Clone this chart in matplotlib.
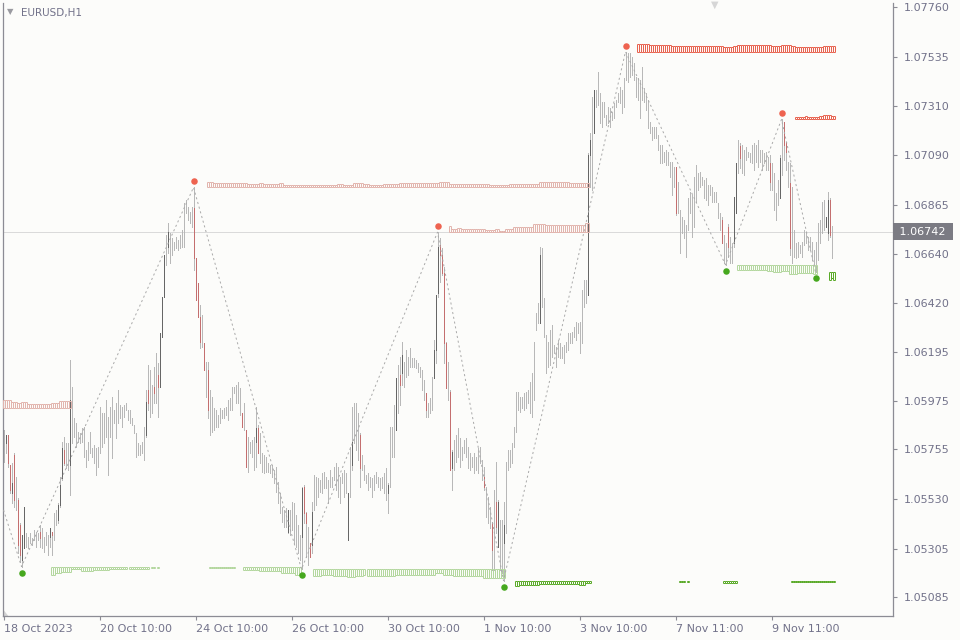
import numpy as np
import matplotlib
matplotlib.use('Agg')
import matplotlib.pyplot as plt
import matplotlib.transforms as mtransforms

plt.rcParams['font.family'] = ['DejaVu Sans']
plt.rcParams['lines.scale_dashes'] = False

# EURUSD H1 bars, one per hour (bar 0 = 18 Oct 2023)
high = [
    1.05843, 1.05820, 1.05820, 1.05684, 1.05693, 1.05739, 1.05630, 1.05535, 1.05421, 1.05367,
    1.05494, 1.05376, 1.05358, 1.05376, 1.05354, 1.05390, 1.05381, 1.05376, 1.05412, 1.05399,
    1.05358, 1.05381, 1.05367, 1.05399, 1.05381, 1.05467, 1.05481, 1.05512, 1.05630, 1.05789,
    1.05811, 1.05784, 1.05784, 1.06161, 1.06038, 1.05898, 1.05875, 1.05834, 1.05830, 1.05852,
    1.05857, 1.05753, 1.05789, 1.05834, 1.05762, 1.05775, 1.05762, 1.05766, 1.05947, 1.05920,
    1.05920, 1.05979, 1.05902, 1.05947, 1.05993, 1.05934, 1.05965, 1.06025, 1.05956, 1.05947,
    1.05956, 1.05965, 1.05934, 1.05934, 1.05898, 1.05866, 1.05830, 1.05784, 1.05775, 1.05789,
    1.05857, 1.06025, 1.06138, 1.06115, 1.06047, 1.06129, 1.06192, 1.06147, 1.06283, 1.06447,
    1.06637, 1.06728, 1.06782, 1.06737, 1.06714, 1.06696, 1.06719, 1.06705, 1.06728, 1.06750,
    1.06873, 1.06886, 1.06854, 1.06832, 1.06854, 1.06943, 1.06624, 1.06510, 1.06410, 1.06365,
    1.06238, 1.06152, 1.06152, 1.06025, 1.05993, 1.05943, 1.05934, 1.05911, 1.05943, 1.05934,
    1.05943, 1.05947, 1.05979, 1.05988, 1.06038, 1.06038, 1.06047, 1.06061, 1.06034, 1.05920,
    1.05965, 1.05843, 1.05811, 1.05789, 1.05798, 1.05811, 1.05947, 1.05866, 1.05830, 1.05739,
    1.05730, 1.05721, 1.05693, 1.05684, 1.05684, 1.05662, 1.05675, 1.05608, 1.05557, 1.05494,
    1.05481, 1.05490, 1.05481, 1.05481, 1.05517, 1.05512, 1.05458, 1.05412, 1.05367, 1.05584,
    1.05594, 1.05472, 1.05403, 1.05331, 1.05517, 1.05639, 1.05630, 1.05626, 1.05617, 1.05648,
    1.05653, 1.05630, 1.05617, 1.05662, 1.05630, 1.05675, 1.05693, 1.05675, 1.05630, 1.05648,
    1.05662, 1.05648, 1.05557, 1.05766, 1.05947, 1.05965, 1.05965, 1.05920, 1.05830, 1.05730,
    1.05684, 1.05639, 1.05648, 1.05630, 1.05626, 1.05639, 1.05653, 1.05630, 1.05626, 1.05630,
    1.05648, 1.05671, 1.05603, 1.05857, 1.05857, 1.05956, 1.06079, 1.06138, 1.06174, 1.06242,
    1.06152, 1.06206, 1.06174, 1.06215, 1.06170, 1.06170, 1.06161, 1.06147, 1.06129, 1.06115,
    1.06070, 1.06011, 1.05965, 1.05988, 1.06084, 1.06251, 1.06456, 1.06740, 1.06714, 1.06669,
    1.06583, 1.06242, 1.06152, 1.06025, 1.05753, 1.05798, 1.05820, 1.05852, 1.05807, 1.05766,
    1.05798, 1.05807, 1.05766, 1.05739, 1.05721, 1.05739, 1.05721, 1.05762, 1.05766, 1.05707,
    1.05675, 1.05584, 1.05539, 1.05494, 1.05426, 1.05571, 1.05698, 1.05526, 1.05435, 1.05435,
    1.05517, 1.05698, 1.05753, 1.05753, 1.05784, 1.05857, 1.06016, 1.06016, 1.05993, 1.05993,
    1.06011, 1.06016, 1.06025, 1.06061, 1.06102, 1.06242, 1.06374, 1.06419, 1.06673, 1.06669,
    1.06442, 1.06274, 1.06242, 1.06297, 1.06319, 1.06229, 1.06219, 1.06251, 1.06238, 1.06219,
    1.06229, 1.06242, 1.06283, 1.06283, 1.06288, 1.06310, 1.06333, 1.06329, 1.06333, 1.06478,
    1.06524, 1.06524, 1.07099, 1.07190, 1.07353, 1.07385, 1.07385, 1.07466, 1.07371, 1.07331,
    1.07331, 1.07272, 1.07308, 1.07303, 1.07285, 1.07326, 1.07340, 1.07371, 1.07398, 1.07385,
    1.07439, 1.07558, 1.07553, 1.07553, 1.07534, 1.07507, 1.07444, 1.07439, 1.07430, 1.07489,
    1.07394, 1.07371, 1.07340, 1.07240, 1.07217, 1.07217, 1.07217, 1.07181, 1.07136, 1.07136,
    1.07104, 1.07113, 1.07104, 1.07059, 1.07059, 1.07036, 1.07036, 1.06968, 1.06841, 1.06809,
    1.06796, 1.06773, 1.06895, 1.06923, 1.06909, 1.06991, 1.07045, 1.07009, 1.07013, 1.06991,
    1.06977, 1.06986, 1.06955, 1.06955, 1.06946, 1.06923, 1.06923, 1.06873, 1.06827, 1.06809,
    1.06728, 1.06692, 1.06778, 1.06719, 1.06692, 1.06900, 1.07054, 1.07158, 1.07145, 1.07136,
    1.07113, 1.07127, 1.07104, 1.07099, 1.07136, 1.07145, 1.07136, 1.07158, 1.07113, 1.07113,
    1.07099, 1.07104, 1.07081, 1.07090, 1.07054, 1.07009, 1.06918, 1.06977, 1.07090, 1.07251,
    1.07240, 1.07149, 1.07059, 1.07054, 1.06946, 1.06750, 1.06692, 1.06696, 1.06682, 1.06696,
    1.06750, 1.06741, 1.06719, 1.06719, 1.06696, 1.06660, 1.06696, 1.06782, 1.06796, 1.06877,
    1.06886, 1.06809, 1.06923, 1.06895, 1.06769,
]
low = [
    1.05698, 1.05739, 1.05675, 1.05557, 1.05512, 1.05494, 1.05481, 1.05285, 1.05245, 1.05224,
    1.05309, 1.05313, 1.05309, 1.05331, 1.05322, 1.05345, 1.05313, 1.05345, 1.05313, 1.05309,
    1.05290, 1.05322, 1.05276, 1.05313, 1.05276, 1.05345, 1.05412, 1.05421, 1.05494, 1.05617,
    1.05684, 1.05671, 1.05662, 1.05548, 1.05784, 1.05811, 1.05766, 1.05789, 1.05784, 1.05789,
    1.05721, 1.05675, 1.05707, 1.05739, 1.05721, 1.05693, 1.05639, 1.05675, 1.05739, 1.05766,
    1.05784, 1.05811, 1.05639, 1.05811, 1.05716, 1.05875, 1.05807, 1.05875, 1.05898, 1.05857,
    1.05902, 1.05934, 1.05889, 1.05875, 1.05866, 1.05830, 1.05721, 1.05730, 1.05730, 1.05739,
    1.05707, 1.05811, 1.05934, 1.05902, 1.05920, 1.05965, 1.05965, 1.05902, 1.06038, 1.06265,
    1.06447, 1.06592, 1.06646, 1.06600, 1.06637, 1.06660, 1.06669, 1.06660, 1.06669, 1.06673,
    1.06673, 1.06827, 1.06796, 1.06782, 1.06764, 1.06569, 1.06433, 1.06356, 1.06215, 1.06219,
    1.06115, 1.05993, 1.05898, 1.05820, 1.05834, 1.05843, 1.05857, 1.05857, 1.05875, 1.05898,
    1.05898, 1.05911, 1.05889, 1.05934, 1.05934, 1.06011, 1.05965, 1.05965, 1.05911, 1.05857,
    1.05843, 1.05675, 1.05653, 1.05739, 1.05721, 1.05662, 1.05675, 1.05739, 1.05693, 1.05653,
    1.05648, 1.05653, 1.05653, 1.05648, 1.05630, 1.05603, 1.05562, 1.05512, 1.05467, 1.05426,
    1.05403, 1.05403, 1.05376, 1.05367, 1.05390, 1.05331, 1.05313, 1.05285, 1.05254, 1.05212,
    1.05421, 1.05267, 1.05231, 1.05267, 1.05285, 1.05481, 1.05503, 1.05539, 1.05562, 1.05557,
    1.05580, 1.05580, 1.05512, 1.05584, 1.05584, 1.05617, 1.05571, 1.05539, 1.05512, 1.05603,
    1.05539, 1.05557, 1.05345, 1.05539, 1.05662, 1.05784, 1.05753, 1.05707, 1.05584, 1.05662,
    1.05617, 1.05603, 1.05571, 1.05584, 1.05539, 1.05571, 1.05603, 1.05584, 1.05571, 1.05580,
    1.05557, 1.05526, 1.05467, 1.05584, 1.05721, 1.05721, 1.05843, 1.05920, 1.05956, 1.06047,
    1.06038, 1.06084, 1.06093, 1.06129, 1.06129, 1.06129, 1.06124, 1.06106, 1.06084, 1.06025,
    1.05979, 1.05902, 1.05902, 1.05920, 1.05934, 1.06079, 1.06147, 1.06447, 1.06515, 1.06546,
    1.06147, 1.06034, 1.05979, 1.05662, 1.05571, 1.05662, 1.05698, 1.05721, 1.05675, 1.05707,
    1.05739, 1.05721, 1.05671, 1.05662, 1.05675, 1.05648, 1.05662, 1.05648, 1.05693, 1.05617,
    1.05571, 1.05449, 1.05421, 1.05399, 1.05208, 1.05208, 1.05376, 1.05313, 1.05208, 1.05195,
    1.05160, 1.05376, 1.05662, 1.05675, 1.05693, 1.05766, 1.05834, 1.05934, 1.05925, 1.05943,
    1.05934, 1.05943, 1.05965, 1.05920, 1.05902, 1.05979, 1.06297, 1.06329, 1.06329, 1.06401,
    1.06265, 1.06102, 1.06129, 1.06138, 1.06174, 1.06192, 1.06129, 1.06174, 1.06170, 1.06170,
    1.06147, 1.06197, 1.06206, 1.06238, 1.06238, 1.06265, 1.06251, 1.06283, 1.06192, 1.06238,
    1.06401, 1.06419, 1.06456, 1.06946, 1.06932, 1.07190, 1.07308, 1.07317, 1.07235, 1.07217,
    1.07263, 1.07226, 1.07235, 1.07217, 1.07249, 1.07258, 1.07308, 1.07331, 1.07326, 1.07281,
    1.07308, 1.07430, 1.07421, 1.07444, 1.07453, 1.07430, 1.07353, 1.07340, 1.07258, 1.07340,
    1.07331, 1.07294, 1.07213, 1.07190, 1.07158, 1.07167, 1.07167, 1.07113, 1.07054, 1.07054,
    1.07059, 1.07045, 1.07045, 1.06991, 1.06909, 1.06946, 1.06819, 1.06827, 1.06646, 1.06737,
    1.06714, 1.06628, 1.06750, 1.06827, 1.06719, 1.06764, 1.06877, 1.06932, 1.06946, 1.06955,
    1.06895, 1.06886, 1.06864, 1.06909, 1.06877, 1.06877, 1.06877, 1.06805, 1.06750, 1.06692,
    1.06600, 1.06592, 1.06628, 1.06600, 1.06600, 1.06673, 1.06827, 1.07009, 1.07032, 1.07009,
    1.07000, 1.07068, 1.07081, 1.07059, 1.07054, 1.07022, 1.07059, 1.07036, 1.07059, 1.07022,
    1.07054, 1.07022, 1.07022, 1.06932, 1.06932, 1.06841, 1.06796, 1.06864, 1.06895, 1.07000,
    1.07068, 1.07022, 1.06946, 1.06637, 1.06600, 1.06628, 1.06624, 1.06628, 1.06646, 1.06628,
    1.06682, 1.06692, 1.06660, 1.06660, 1.06614, 1.06592, 1.06558, 1.06614, 1.06692, 1.06737,
    1.06750, 1.06764, 1.06705, 1.06719, 1.06624,
]

# bars whose open/close body shows in colour
body_idx = [1, 2, 3, 4, 5, 7, 8, 9, 10, 18, 23, 24, 27, 28, 29, 30, 33, 71, 72, 75, 77, 78, 79, 80, 82,
            95, 96, 97, 98, 100, 102, 119, 121, 126, 127, 142, 149, 150, 151, 153, 154, 172, 174, 178,
            192, 196, 198, 199, 211, 215, 216, 217, 218, 219, 220, 221, 223, 224, 240, 244, 246, 247,
            250, 268, 292, 293, 295, 336, 359, 362, 365, 366, 368, 383, 388, 390, 391, 393, 411, 412, 413]
body_open = [1.05784, 1.05820, 1.05684, 1.05557, 1.05730, 1.05526, 1.05412, 1.05254, 1.05309, 1.05381,
             1.05358, 1.05380, 1.05435, 1.05503, 1.05626, 1.05753, 1.05684, 1.05820, 1.06025, 1.06038,
             1.06093, 1.06038, 1.06265, 1.06447, 1.06673, 1.06850, 1.06624, 1.06510, 1.06356, 1.06238,
             1.06115, 1.05920, 1.05843, 1.05789, 1.05852, 1.05381, 1.05358, 1.05584, 1.05467, 1.05331,
             1.05322, 1.05345, 1.05684, 1.05820, 1.05557, 1.05843, 1.06093, 1.06102, 1.06011, 1.06079,
             1.06206, 1.06464, 1.06682, 1.06637, 1.06555, 1.06238, 1.06016, 1.05671, 1.05630, 1.05421,
             1.05517, 1.05313, 1.05331, 1.06329, 1.06456, 1.07090, 1.07190, 1.07036, 1.06796, 1.06764,
             1.06692, 1.06827, 1.07130, 1.07054, 1.06895, 1.07240, 1.07149, 1.06964, 1.06764, 1.06737,
             1.06886]
body_close = [1.05820, 1.05693, 1.05571, 1.05603, 1.05526, 1.05322, 1.05276, 1.05367, 1.05494, 1.05354,
              1.05399, 1.05367, 1.05503, 1.05594, 1.05762, 1.05693, 1.05979, 1.05970, 1.05965, 1.06011,
              1.06038, 1.06283, 1.06447, 1.06637, 1.06741, 1.06624, 1.06433, 1.06356, 1.06242, 1.06115,
              1.05934, 1.05857, 1.05675, 1.05852, 1.05739, 1.05481, 1.05580, 1.05467, 1.05421, 1.05267,
              1.05472, 1.05557, 1.05789, 1.05671, 1.05594, 1.06079, 1.06047, 1.06183, 1.05934, 1.06206,
              1.06456, 1.06673, 1.06637, 1.06555, 1.06238, 1.06034, 1.05662, 1.05744, 1.05584, 1.05299,
              1.05403, 1.05517, 1.05412, 1.06637, 1.07090, 1.07158, 1.07385, 1.06827, 1.06692, 1.06673,
              1.06900, 1.07054, 1.07077, 1.06968, 1.07077, 1.07136, 1.07104, 1.06669, 1.06809, 1.06886,
              1.06728]

last_price = 1.06742

# zigzag turning points
zz_start = 1.05481  # where the zigzag enters at the left edge
pivot_high_idx = [95, 217, 311, 389]
pivot_low_idx = [9, 149, 250, 361, 406]

# level histograms (cell heights in points of 0.00001)
res_a_price, res_a_start = 1.05941, 0
res_a_h = [38]*4 + [30]*3 + [23]*2 + [27]*3 + [20]*12 + [26]*4 + [35]*6
res_b_start = 102
res_b_h = ([23]*3 + [18]*17 + [14]*6 + [18]*2 + [14]*8 + [18]*2 + [9]*27 + [14]*3 + [9]*5
           + [18]*5 + [14]*3 + [9]*7 + [14]*8 + [18]*20 + [23]*5 + [14]*20 + [9]*10 + [14]*15
           + [23]*15 + [18]*10)
res_c_start = 223
res_c_h = ([26] + [14]*3 + [20]*2 + [14]*12 + [9]*5 + [16]*2 + [6]*3 + [14]*4 + [23]*10
           + [38]*6 + [32]*20 + [41]*2)
res_d_start = 317
res_d_h = ([36]*6 + [32]*11 + [27]*26 + [23]*5 + [27]*2 + [32]*17 + [27]*5 + [32]*5 + [27]*2
           + [23]*14 + [27]*6)
res_e_start = 396
res_e_h = [9]*5 + [14] + [9]*6 + [14]*2 + [18]*4 + [14]*2
sup_a_start = 24
sup_a_h = ([38]*2 + [30]*3 + [23]*5 + [12]*5 + [18]*6 + [15]*8 + [12]*9 + [0] + [12]*10 + [0]
           + [5]*2 + [0] + [5] + [0]*25 + [8]*13 + [0]*4 + [15]*8 + [18]*11 + [30]*7 + [38]*3)
sup_b_start = 155
sup_b_h = ([32]*4 + [27]*6 + [32]*7 + [36]*4 + [29]*4 + [27] + [0] + [29]*14 + [27]*5 + [25]*15
           + [18]*4 + [27]*5 + [29]*15 + [38]*11)
sup_c_start = 256
sup_c_h = ([26]*2 + [21]*10 + [14]*4 + [15]*16 + [18]*3 + [10]*3 + [0]*44 + [5]*3 + [0] + [5]
           + [0]*17 + [9]*7 + [0]*27 + [5]*22)
sup_d_start = 367
sup_d_h = [23]*15 + [27]*3 + [33]*4 + [26]*4 + [42]*4 + [38]*8 + [42]*2
sup_e_start = 413
sup_e_h = [33, 27, 33]

y_ticks = [1.05085, 1.05305, 1.05530, 1.05755, 1.05975, 1.06195, 1.06420,
           1.06640, 1.06865, 1.07090, 1.07310, 1.07535, 1.07760]
x_tick_bars = [0, 48, 96, 144, 192, 240, 288, 336, 384]
x_tick_labels = ['18 Oct 2023', '20 Oct 10:00', '24 Oct 10:00', '26 Oct 10:00', '30 Oct 10:00',
                 '1 Nov 10:00', '3 Nov 10:00', '7 Nov 11:00', '9 Nov 11:00']

bg = '#fcfcfa'
axis_c = '#8c8c94'
text_c = '#72728a'
light_red, bright_red = '#e2b4ad', '#e8624f'
light_green, dark_green = '#b3d79e', '#5aaa28'
px = 72 / 100  # one screen pixel in points

high = np.array(high)
low = np.array(low)
idx = np.arange(len(high))

fig = plt.figure(figsize=(9.6, 6.4), dpi=100, facecolor=bg)
ax = fig.add_axes([3/960, 24/640, 890/960, 613/640], facecolor=bg)

ax.axhline(last_price, color='#dadada', lw=px, zorder=0)

ax.vlines(idx, low, high, colors='#b8b8b8', lw=0.6, antialiased=False, zorder=2)
bo = np.array(body_open)
bc = np.array(body_close)
bcol = np.where(bc >= bo, '#666666', '#c46f6f')
ax.vlines(body_idx, np.minimum(bo, bc), np.maximum(bo, bc), colors=bcol, lw=0.6,
          antialiased=False, zorder=3)


def draw_level(price, start, heights, color, support):
    # comb of outlined cells, one per bar
    h = np.array(heights) / 1e5
    xs = start + np.arange(len(h))
    keep = h > 0
    xs, h = xs[keep], h[keep]
    far = price - h if support else price + h
    lo, hi = np.minimum(price, far), np.maximum(price, far)
    edges = np.unique(np.concatenate([xs - 0.5, xs + 0.5]))
    e_lo = np.full(len(edges), np.inf)
    e_hi = np.full(len(edges), -np.inf)
    for x0, a, b in zip(xs, lo, hi):
        for e in (x0 - 0.5, x0 + 0.5):
            k = np.searchsorted(edges, e)
            e_lo[k] = min(e_lo[k], a)
            e_hi[k] = max(e_hi[k], b)
    ax.vlines(edges, e_lo, e_hi, colors=color, lw=px, antialiased=True, snap=True, zorder=4)
    ax.hlines(far, xs - 0.5, xs + 0.5, colors=color, lw=px, snap=True, zorder=4)
    ax.hlines(np.full(len(xs), price), xs - 0.5, xs + 0.5, colors=color, lw=px,
              snap=True, zorder=4)


draw_level(res_a_price, res_a_start, res_a_h, light_red, False)
draw_level(high[95], res_b_start, res_b_h, light_red, False)
draw_level(high[217], res_c_start, res_c_h, light_red, False)
draw_level(high[311], res_d_start, res_d_h, bright_red, False)
draw_level(high[389], res_e_start, res_e_h, bright_red, False)
draw_level(low[9], sup_a_start, sup_a_h, light_green, True)
draw_level(low[149], sup_b_start, sup_b_h, light_green, True)
draw_level(low[250], sup_c_start, sup_c_h, dark_green, True)
draw_level(low[361], sup_d_start, sup_d_h, light_green, True)
draw_level(low[406], sup_e_start, sup_e_h, dark_green, True)

# zigzag
piv = sorted([(i, high[i]) for i in pivot_high_idx] + [(i, low[i]) for i in pivot_low_idx])
zx = [0] + [p[0] for p in piv]
zy = [zz_start] + [p[1] for p in piv]
ax.plot(zx, zy, color='#a9a9a9', lw=0.7, ls=(0, (1.5, 2.0)), zorder=5)

up = mtransforms.offset_copy(ax.transData, fig=fig, x=0, y=6, units='dots')
dn = mtransforms.offset_copy(ax.transData, fig=fig, x=0, y=-6, units='dots')
ax.scatter(pivot_high_idx, high[pivot_high_idx], s=22, color='#ee6350', lw=0, transform=up, zorder=6)
ax.scatter(pivot_low_idx, low[pivot_low_idx], s=22, color='#46a81e', lw=0, transform=dn, zorder=6)

ax.set_xlim(-0.25, 444.75)
ax.set_ylim(1.05000, 1.07779)

ax.spines['top'].set_visible(False)
for s in ['left', 'right', 'bottom']:
    ax.spines[s].set_color(axis_c)
    ax.spines[s].set_linewidth(0.9)

ax.yaxis.tick_right()
ax.set_yticks(y_ticks)
ax.set_yticklabels(['%.5f' % v for v in y_ticks])
ax.set_xticks(x_tick_bars)
ax.set_xticklabels(x_tick_labels, ha='left')
ax.tick_params(axis='y', length=3, width=0.8, color=axis_c, labelcolor=text_c, labelsize=8, pad=5)
ax.tick_params(axis='x', length=3, width=0.8, color=axis_c, labelcolor=text_c, labelsize=8, pad=3)

# current price tag on the price scale
price_tr = mtransforms.blended_transform_factory(ax.transAxes, ax.transData)
ax.annotate(' %.5f ' % last_price, xy=(1.0, last_price), xycoords=price_tr,
            xytext=(2.4, 0), textcoords='offset points', va='center', ha='left',
            fontsize=8, color='white',
            bbox=dict(boxstyle='square,pad=0.3', fc='#7b7b83', ec='none'))

# corner marks
ax.fill([0, 0.006, 0], [0, 0, 0.011], transform=ax.transAxes, color='#d4d4d4', lw=0, clip_on=False)
fig.text(715/960, 1 - 5/640, '\u25bc', fontsize=7, color='#d6d6d6', ha='center', va='center')
fig.text(7/960, 1 - 12/640, '\u25bc', fontsize=6, color='#9a9aa0', ha='left', va='center')
fig.text(21/960, 1 - 13/640, 'EURUSD,H1', fontsize=7.5, color=text_c, ha='left', va='center')

fig.savefig('out.png', dpi=100, facecolor=bg)
